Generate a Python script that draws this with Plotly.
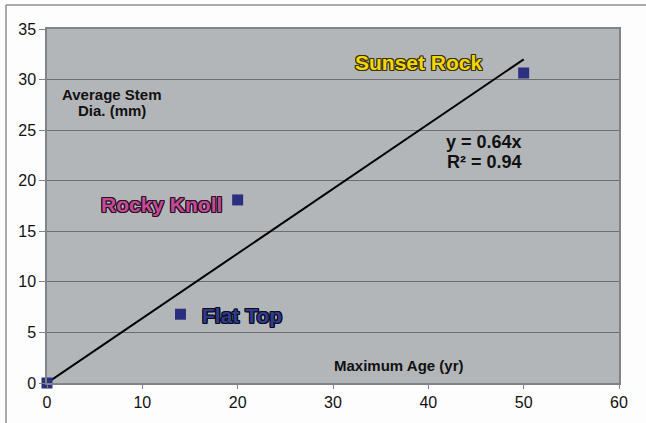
import plotly.graph_objects as go

# ---- data ----
sites = ["Origin", "Flat Top", "Rocky Knoll", "Sunset Rock"]
max_age = [0, 14, 20, 50]
stem_dia = [0, 6.8, 18.1, 30.65]
trend_slope = 0.64
trend_r2 = 0.94
trend_x = [0, 50]
x_ticks = [0, 10, 20, 30, 40, 50, 60]
y_ticks = [0, 5, 10, 15, 20, 25, 30, 35]

trend_y = [trend_slope * v for v in trend_x]

fig = go.Figure()
fig.add_trace(go.Scatter(
    x=trend_x, y=trend_y, mode="lines",
    line=dict(color="#000000", width=2), hoverinfo="skip", showlegend=False))
fig.add_trace(go.Scatter(
    x=max_age, y=stem_dia, mode="markers", text=sites,
    marker=dict(symbol="square", size=11, color="#2b2f80",
                line=dict(width=0)), cliponaxis=False, showlegend=False))

base = "Liberation Sans, Arial, sans-serif"

def outline(c):
    return (f"1px 1px 0 {c}, -1px -1px 0 {c}, 1px -1px 0 {c}, -1px 1px 0 {c}, "
            f"0 1px 0 {c}, 0 -1px 0 {c}, 1px 0 0 {c}, -1px 0 0 {c}")

ann = []
def add(text, x, y, size, color, family=base, shadow=None):
    f = dict(family=family, size=size, color=color, weight="bold")
    if shadow:
        f["shadow"] = shadow
    ann.append(dict(text=text, x=x, y=y, xref="x", yref="y", showarrow=False,
                    xanchor="center", yanchor="middle", font=f))

add(sites[3], 39.0, 31.7, 21, "#f3d70c", base, outline("#3a3200"))
add(sites[2], 11.96, 17.6, 21, "#c24b98", base, outline("#2a0f20"))
add(sites[1], 20.45, 6.72, 21, "#2f3c8e", base, outline("#0a0a18"))
add("Average Stem", 6.82, 28.48, 15, "#111111")
add("Dia. (mm)", 6.82, 26.99, 15, "#111111")
add("Maximum Age (yr)", 36.92, 1.78, 15, "#111111")
add(f"y = {trend_slope}x", 45.84, 23.83, 18, "#111111")
add(f"R² = {trend_r2}", 45.84, 21.85, 18, "#111111")

L, R, T, B = 47, 27, 29, 40
W, H = 646, 423
fig.update_layout(
    width=W, height=H,
    margin=dict(l=L, r=R, t=T, b=B),
    paper_bgcolor="#fdfdfd",
    plot_bgcolor="#b3b6b9",
    font=dict(family=base, size=16, color="#111111"),
    annotations=ann,
)
# outer frame (top and left)
pw = W - L - R
ph = H - T - B
fig.add_shape(type="line", xref="paper", yref="paper",
              x0=(6 - L) / pw, x1=(W - L) / pw,
              y0=(H - B - 5) / ph, y1=(H - B - 5) / ph,
              line=dict(color="#8c8c8c", width=1.5))
fig.add_shape(type="line", xref="paper", yref="paper",
              x0=(6 - L) / pw, x1=(6 - L) / pw,
              y0=(H - B - 5) / ph, y1=-B / ph,
              line=dict(color="#8c8c8c", width=1.5))

fig.update_xaxes(range=[0, 60], tickvals=x_ticks, showgrid=False, zeroline=False,
                 showline=True, linecolor="#808488", linewidth=1.5, mirror=True,
                 ticks="outside", ticklen=4, tickcolor="#808488",
                 tickfont=dict(size=16, color="#111111"))
fig.update_yaxes(range=[0, 35], tickvals=y_ticks, showgrid=True, gridcolor="#6e6e6e",
                 gridwidth=1, zeroline=False,
                 showline=True, linecolor="#808488", linewidth=1.5, mirror=True,
                 ticks="outside", ticklen=6, tickcolor="#808488",
                 tickfont=dict(size=16, color="#111111"))

fig.write_html("out.html", config={"displayModeBar": False},
               post_script="document.body.style.margin='0';")
